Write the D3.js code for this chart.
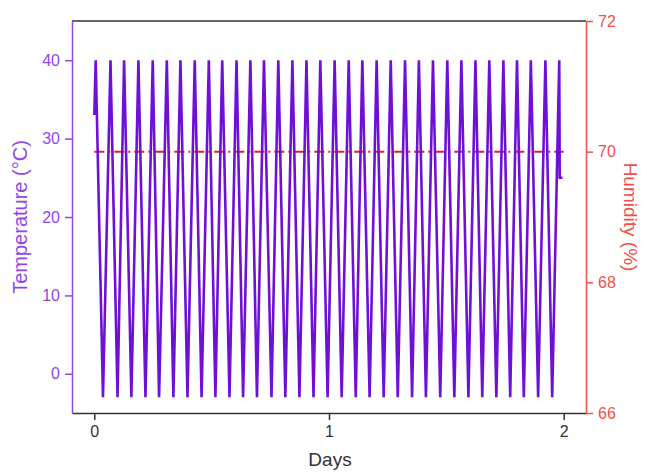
<!DOCTYPE html>
<html>
<head>
<meta charset="utf-8">
<script src="https://cdn.jsdelivr.net/npm/d3@7"></script>
<style>
  body { margin: 0; background: #fff; }
  svg { display: block; font-family: "Liberation Sans", Arial, sans-serif; }
</style>
</head>
<body>
<svg id="chart" width="647" height="472"></svg>
<script>
// values
const peakDays = [0.006, 0.069, 0.127, 0.188, 0.249, 0.309, 0.367, 0.428, 0.488, 0.545,
  0.606, 0.665, 0.723, 0.784, 0.844, 0.904, 0.963, 1.024, 1.084, 1.142,
  1.203, 1.263, 1.324, 1.383, 1.443, 1.504, 1.564, 1.624, 1.683, 1.743,
  1.801, 1.860, 1.922, 1.981];
const peakTemps = [40, 40, 40, 40, 40, 40, 40, 40, 40, 40, 40, 40, 40, 40, 40, 40, 40,
  40, 40, 40, 40, 40, 40, 40, 40, 40, 40, 40, 40, 40, 40, 40, 40, 40];
const troughDays = [0.037, 0.099, 0.158, 0.218, 0.276, 0.337, 0.397, 0.457, 0.516, 0.576,
  0.634, 0.693, 0.755, 0.814, 0.874, 0.934, 0.994, 1.054, 1.114, 1.173,
  1.233, 1.293, 1.354, 1.413, 1.474, 1.534, 1.594, 1.653, 1.713, 1.772,
  1.830, 1.891, 1.951];
const troughTemps = [-3, -3, -3, -3, -3, -3, -3, -3, -3, -3, -3, -3, -3, -3, -3, -3, -3,
  -3, -3, -3, -3, -3, -3, -3, -3, -3, -3, -3, -3, -3, -3, -3, -3];
const startPoint = [0.0, 33];
const endPoints = [[1.983, 25], [1.995, 25]];

const humidityDays = [0, 2];
const humidityValues = [70, 70];

const dayTicks = [0, 1, 2];
const tempTicks = [0, 10, 20, 30, 40];
const humTicks = [66, 68, 70, 72];

// build temperature series: start, then peak/trough alternating, then tail
const temp = [startPoint];
peakDays.forEach((d, i) => {
  temp.push([d, peakTemps[i]]);
  if (i < troughDays.length) temp.push([troughDays[i], troughTemps[i]]);
});
endPoints.forEach(p => temp.push(p));
const hum = humidityDays.map((d, i) => [d, humidityValues[i]]);

const purple = '#6e10d6';
const axisPurple = '#9146e6';
const red = '#f0504a';

const mLeft = 72, mRight = 586, mTop = 21, mBottom = 413;
const svg = d3.select('#chart');

const x = d3.scaleLinear().domain([-0.095, 2.095]).range([mLeft, mRight]);
const y = d3.scaleLinear().domain([-5, 45]).range([mBottom, mTop]);
const yH = d3.scaleLinear().domain([66, 72]).range([mBottom, mTop]);

// top frame line
svg.append('line')
  .attr('x1', mLeft).attr('x2', mRight).attr('y1', mTop).attr('y2', mTop)
  .attr('stroke', '#333').attr('stroke-width', 1.5);

// humidity dash-dot line
svg.append('path')
  .datum(hum)
  .attr('d', d3.line().x(d => x(d[0])).y(d => yH(d[1])))
  .attr('fill', 'none')
  .attr('stroke', '#e8201c')
  .attr('stroke-width', 2)
  .attr('stroke-dasharray', '10,4,2,4');

// temperature
svg.append('path')
  .datum(temp)
  .attr('d', d3.line().x(d => x(d[0])).y(d => y(d[1])))
  .attr('fill', 'none')
  .attr('stroke', purple)
  .attr('stroke-width', 2.6)
  .attr('stroke-linejoin', 'miter');

// bottom axis
const xAxis = svg.append('g')
  .attr('transform', `translate(0,${mBottom})`)
  .call(d3.axisBottom(x).tickValues(dayTicks).tickSize(7).tickPadding(6).tickSizeOuter(0).tickFormat(d3.format('d')));
xAxis.select('.domain').attr('stroke', '#333').attr('stroke-width', 1.5);
xAxis.selectAll('.tick line').attr('stroke', '#333').attr('stroke-width', 1.5);
xAxis.selectAll('text').attr('fill', '#333').attr('font-size', 16);

// left axis
const yAxis = svg.append('g')
  .attr('transform', `translate(${mLeft},0)`)
  .call(d3.axisLeft(y).tickValues(tempTicks).tickSize(7).tickPadding(5).tickSizeOuter(0));
yAxis.select('.domain').attr('stroke', axisPurple).attr('stroke-width', 1.5);
yAxis.selectAll('.tick line').attr('stroke', axisPurple).attr('stroke-width', 1.5);
yAxis.selectAll('text').attr('fill', axisPurple).attr('font-size', 16);

// right axis
const hAxis = svg.append('g')
  .attr('transform', `translate(${mRight},0)`)
  .call(d3.axisRight(yH).tickValues(humTicks).tickSize(7).tickPadding(5).tickSizeOuter(0).tickFormat(d3.format('d')));
hAxis.select('.domain').attr('stroke', red).attr('stroke-width', 1.5);
hAxis.selectAll('.tick line').attr('stroke', red).attr('stroke-width', 1.5);
hAxis.selectAll('text').attr('fill', red).attr('font-size', 16);

// titles
svg.append('text')
  .attr('x', 330).attr('y', 466)
  .attr('text-anchor', 'middle')
  .attr('font-size', 19)
  .attr('fill', '#333')
  .text('Days');

svg.append('text')
  .attr('transform', `translate(27,${(mTop + mBottom) / 2}) rotate(-90)`)
  .attr('text-anchor', 'middle')
  .attr('font-size', 20)
  .attr('fill', axisPurple)
  .text('Temperature (°C)');

svg.append('text')
  .attr('transform', `translate(624,${(mTop + mBottom) / 2}) rotate(90)`)
  .attr('text-anchor', 'middle')
  .attr('font-size', 19)
  .attr('fill', red)
  .text('Humidity (%)');
</script>
</body>
</html>
